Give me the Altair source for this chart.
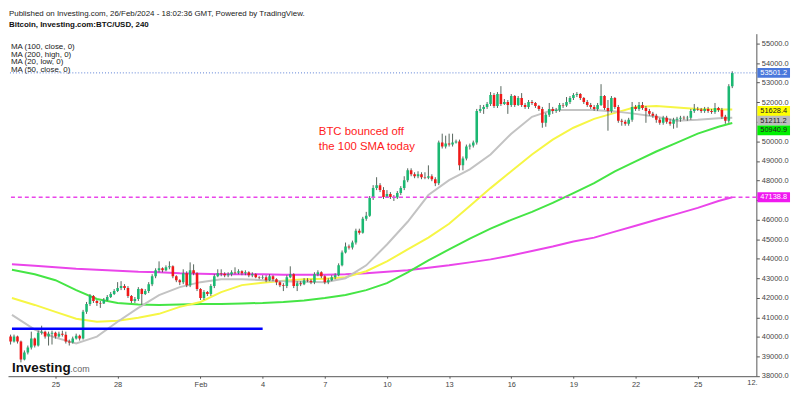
import altair as alt
import pandas as pd

# ---------------- data (BTC/USD 4h candles, Jan 22 20:00 -> Feb 26 16:00) ----------------
first_open = 40013
close = [39760, 40013, 39760, 38848, 39203, 39456, 39911, 39557, 40215, 40266,
         40013, 40165, 40215, 40013, 40165, 40114, 39760, 39709, 39911, 40063,
         39911, 41279, 41684, 42089, 41835, 41734, 41709, 41886, 42038, 42190,
         42342, 42494, 42595, 42494, 42089, 41835, 41937, 42443, 42190, 42342,
         42696, 43101, 43405, 43506, 43405, 43557, 43608, 43101, 42899, 42798,
         43253, 42646, 43405, 43253, 42443, 41987, 42291, 42190, 42595, 43101,
         43253, 43228, 43152, 43203, 43304, 43279, 43354, 43253, 43304, 43152,
         43203, 43051, 43025, 43051, 42899, 43101, 42949, 42798, 42646, 42595,
         43051, 43203, 42595, 42747, 42696, 42899, 42874, 42798, 43203, 43304,
         43101, 42798, 42899, 43051, 43152, 43658, 44317, 44620, 44570, 44823,
         45430, 45329, 46038, 46190, 47101, 47608, 47760, 47506, 47152, 47304,
         47152, 47127, 47354, 47608, 48013, 48519, 48316, 48215, 48316, 48165,
         48139, 48215, 48063, 47861, 49937, 49734, 49886, 49835, 49937, 49987,
         48772, 49127, 49734, 49785, 49937, 51557, 51658, 51760, 51911, 52367,
         51810, 52418, 51911, 52013, 51861, 52317, 51861, 52215, 51861, 51760,
         52013, 51962, 51810, 51658, 50949, 51354, 51658, 51557, 51608, 51861,
         51836, 52013, 52215, 52367, 52418, 52215, 52013, 51861, 51760, 51658,
         51861, 52317, 51709, 51557, 52215, 51760, 51051, 51000, 50899, 51101,
         51760, 51658, 51861, 51709, 51557, 51405, 51304, 51101, 50949, 51203,
         51000, 50899, 51101, 51152, 51203, 51177, 51203, 51557, 51658, 51633,
         51557, 51658, 51557, 51506, 51709, 51608, 51253, 51051, 52823, 53501.2]
high = [40114, 40114, 40063, 39810, 39304, 39557, 40266, 39962, 40316, 40570,
        40316, 40266, 40316, 40266, 40266, 40316, 40266, 39861, 40013, 40165,
        40114, 41380, 41785, 42190, 42139, 41886, 41835, 41987, 42139, 42291,
        42443, 42798, 42848, 42696, 42595, 42139, 42038, 42544, 42494, 42443,
        42798, 43203, 43506, 43861, 43557, 43658, 43861, 43658, 43152, 42949,
        43456, 43354, 43810, 43709, 43304, 42494, 42392, 42342, 42696, 43203,
        43456, 43456, 43304, 43304, 43405, 43557, 43456, 43405, 43405, 43354,
        43304, 43253, 43101, 43152, 43152, 43203, 43152, 43000, 42848, 42747,
        43152, 43608, 43253, 42848, 42848, 43000, 43000, 42949, 43304, 43405,
        43354, 43152, 43000, 43152, 43253, 43760, 44418, 44823, 44722, 44924,
        45532, 45532, 46139, 46392, 47203, 47760, 48165, 47861, 47658, 47506,
        47405, 47253, 47456, 47709, 48215, 48620, 48620, 48418, 48468, 48418,
        48418, 48772, 48316, 48165, 50038, 50392, 50291, 50392, 50392, 50089,
        50089, 49228, 49835, 49886, 50038, 51658, 51861, 51861, 52013, 52519,
        52468, 52519, 52823, 52165, 52114, 52418, 52367, 52317, 52468, 51962,
        52114, 52114, 52013, 51861, 51760, 51456, 51962, 51760, 51709, 51962,
        51962, 52266, 52317, 52468, 52519, 52468, 52266, 52114, 51962, 51861,
        51962, 52924, 52367, 52114, 52317, 52266, 51861, 51152, 51101, 51203,
        52013, 51861, 52013, 52013, 51810, 51658, 51506, 51405, 51203, 51304,
        51304, 51152, 51203, 51253, 51304, 51304, 51304, 51658, 51911, 51760,
        51709, 51760, 51760, 51658, 51962, 51760, 51709, 51354, 52924, 53582]
low = [39608, 39709, 39658, 38696, 38798, 39101, 39354, 39456, 39506, 40114,
       39911, 39557, 39608, 39911, 39962, 40013, 39658, 39557, 39658, 39861,
       39810, 39861, 41177, 41582, 41734, 41582, 41481, 41684, 41835, 41987,
       42139, 42291, 42392, 42392, 41987, 41734, 41734, 41835, 41633, 42139,
       42241, 42595, 43000, 43304, 43304, 43354, 43456, 43000, 42798, 42646,
       42696, 42544, 42544, 43152, 42342, 41886, 41886, 42089, 42089, 42494,
       43051, 43101, 43051, 43051, 43101, 43203, 43203, 43152, 43152, 43051,
       43051, 43000, 42949, 42949, 42798, 42848, 42848, 42646, 42544, 42342,
       42494, 43000, 42494, 42342, 42595, 42646, 42798, 42696, 42696, 43101,
       43000, 42696, 42696, 42848, 42949, 43101, 43608, 44266, 44468, 44468,
       44722, 45228, 45279, 45937, 46139, 47000, 47506, 47405, 47051, 47101,
       47051, 46949, 47051, 47253, 47506, 47911, 48215, 48114, 48114, 48063,
       48063, 48063, 47962, 47709, 47760, 49633, 49633, 49734, 49734, 49886,
       48519, 48519, 49025, 49582, 49684, 49835, 51456, 51405, 51658, 51810,
       51709, 51709, 51810, 51861, 51405, 51760, 51760, 51810, 51760, 51658,
       51658, 51861, 51709, 51557, 50696, 50747, 51253, 51405, 51456, 51506,
       51709, 51760, 51911, 52114, 52266, 52114, 51911, 51760, 51658, 51557,
       51557, 51810, 51608, 50544, 51456, 51658, 50949, 50798, 50798, 50798,
       51000, 51557, 51557, 51608, 50949, 51304, 51203, 50949, 50848, 50848,
       50899, 50798, 50646, 50696, 51000, 51101, 51051, 51101, 51456, 51557,
       51456, 51456, 51456, 51405, 51405, 51506, 51152, 50899, 50949, 52722]

# moving averages (day-of-January scale: Feb 1 = 32)
ma_days = [22.9, 24, 25, 26, 27, 28, 29, 30, 31, 32, 33, 34, 35, 36, 37, 38, 39, 40,
           41, 42, 43, 44, 45, 46, 47, 48, 49, 50, 51, 52, 53, 54, 55, 56, 57, 57.667]
ma100_close = [43430, 43203, 42899, 42392, 41937, 41734, 41658, 41633, 41658, 41684,
               41684, 41709, 41734, 41785, 41861, 41987, 42139, 42392, 42747, 43304,
               43911, 44469, 45025, 45532, 45987, 46392, 46848, 47354, 47861, 48468,
               48975, 49481, 49937, 50392, 50747, 50940.9]
ma200_high = [43709, 43633, 43557, 43481, 43430, 43380, 43329, 43304, 43253, 43228,
              43203, 43203, 43203, 43177, 43177, 43177, 43203, 43253, 43329, 43405,
              43532, 43658, 43810, 43962, 44165, 44392, 44620, 44873, 45076, 45380,
              45684, 45987, 46291, 46595, 46949, 47138.8]
ma20_low = [41127, 40367, 39962, 39658, 40013, 40772, 41481, 42139, 42544, 42798,
            42950, 42950, 42899, 42848, 42823, 42798, 43000, 43658, 44722, 45886,
            47253, 48013, 48570, 49329, 50392, 51253, 51608, 51608, 51608, 51532,
            51405, 51253, 51051, 51101, 51177, 51211.2]
ma50_close = [41987, 41633, 41279, 40924, 40772, 40823, 40975, 41177, 41532, 41785,
              42291, 42646, 42772, 42873, 42950, 42975, 43051, 43355, 43861, 44469,
              45076, 45785, 46696, 47608, 48468, 49329, 50089, 50696, 51152, 51456,
              51760, 51810, 51734, 51658, 51633, 51628.4]

support_level = 40420           # blue horizontal line
support_from, support_to = 22.9, 35.0
last_price = 53501.2
ma200_last = 47138.8

x_ticks = [25, 28, 32, 35, 38, 41, 44, 47, 50, 53, 56]
y_ticks = list(range(38000, 55001, 1000))
hidden_y_labels = [47000, 51000]   # covered by the price tags in the original

# ---------------- build ----------------
FONT = "Liberation Sans"
start_day = 22 + 20 / 24
step = 4 / 24
n = len(close)
opens = [first_open] + close[:-1]
candles = pd.DataFrame({
    "d": [start_day + i * step for i in range(n)],
    "open": opens, "close": close, "high": high, "low": low,
})

hide_expr = " || ".join(f"datum.value == {v}" for v in hidden_y_labels)
xs = alt.Scale(domain=[22.948, 58.591], nice=False, zero=False)
ys = alt.Scale(domain=[37988, 55506], nice=False, zero=False)
xaxis = alt.Axis(values=x_ticks,
                 labelExpr="datum.value == 32 ? 'Feb' : (datum.value > 31 ? toString(datum.value - 31) : toString(datum.value))",
                 title=None, grid=False, domainColor="#555", tickColor="#555", tickSize=2,
                 labelFontSize=7.5, labelColor="#444", labelPadding=2, labelOverlap=False)
yaxis = alt.Axis(orient="right", values=y_ticks, format=".1f", title=None, grid=False,
                 labelExpr=f"({hide_expr}) ? '' : datum.label",
                 domainColor="#555", tickColor="#555", tickSize=3, labelFontSize=7.5,
                 labelColor="#444", labelPadding=2, labelOverlap=False)


def X(f):
    return alt.X(f, type="quantitative", scale=xs, axis=xaxis)


def Y(f):
    return alt.Y(f, type="quantitative", scale=ys, axis=yaxis)


layers = []
for vals, col in [(ma200_high, "#ea45ea"), (ma100_close, "#45e545"),
                  (ma50_close, "#f6f645"), (ma20_low, "#c3c3c3")]:
    df = pd.DataFrame({"d": ma_days, "price": vals})
    layers.append(alt.Chart(df).mark_line(strokeWidth=2, clip=True, color=col)
                  .encode(x=X("d"), y=Y("price")))

layers.append(alt.Chart(candles).mark_rule(strokeWidth=1, clip=True, color="#56655c")
              .encode(x=X("d"), y=Y("low"), y2="high"))
layers.append(alt.Chart(candles).mark_bar(size=2.6, clip=True)
              .encode(x=X("d"), y=Y("open"), y2="close",
                      color=alt.condition(alt.datum.close >= alt.datum.open,
                                          alt.value("#1bb872"), alt.value("#f01818"))))

layers.append(alt.Chart(pd.DataFrame({"price": [ma200_last]}))
              .mark_rule(color="#ea45ea", strokeWidth=1.5, strokeDash=[4, 3])
              .encode(y=Y("price")))
layers.append(alt.Chart(pd.DataFrame({"price": [last_price]}))
              .mark_rule(color="#5b7fd6", strokeWidth=1, strokeDash=[1, 2])
              .encode(y=Y("price")))
layers.append(alt.Chart(pd.DataFrame({"d0": [support_from], "d1": [support_to], "price": [support_level]}))
              .mark_rule(color="#0000ff", strokeWidth=2.5, clip=True)
              .encode(x=X("d0"), x2="d1", y=Y("price")))

# price tags on the right axis
tags = [(last_price, 0, "#4a78dc", "white"),
        (ma50_close[-1], 1.5, "#ffff00", "#222"),
        (ma20_low[-1], 3, "#bdbdbd", "#222"),
        (ma100_close[-1], 7.5, "#00f000", "#222"),
        (ma200_last, 0, "#f018f0", "white")]
for price, shift, bg, fg in tags:
    df = pd.DataFrame({"price": [price], "label": [f"{price:.1f}"]})
    layers.append(alt.Chart(df).mark_rect(color=bg, yOffset=-5 + shift, y2Offset=5 + shift)
                  .encode(y=Y("price"), y2="price", x=alt.value(757), x2=alt.value(790)))
    layers.append(alt.Chart(df).mark_text(align="left", baseline="middle", dy=shift, fontSize=7.5,
                                          color=fg, font=FONT)
                  .encode(y=Y("price"), x=alt.value(760), text="label:N"))


def label(text, x, y, **kw):
    props = dict(align="left", baseline="middle", font=FONT)
    props.update(kw)
    return (alt.Chart(pd.DataFrame({"t": [text]})).mark_text(**props)
            .encode(text="t:N", x=alt.value(x), y=alt.value(y)))


layers.append(label("Published on Investing.com, 26/Feb/2024 - 18:02:36 GMT, Powered by TradingView.",
                    1, -20, fontSize=8, color="#222"))
layers.append(label("Bitcoin, Investing.com:BTC/USD, 240", 1, -8.5, fontSize=8,
                    fontWeight="bold", color="#111"))
for k, t in enumerate(["MA (100, close, 0)", "MA (200, high, 0)", "MA (20, low, 0)", "MA (50, close, 0)"]):
    layers.append(label(t, 3, 13.5 + 7.8 * k, fontSize=8, color="#222"))
layers.append(label("BTC bounced off", 314, 99, fontSize=11.5, color="#ff1a1a"))
layers.append(label("the 100 SMA today", 314, 114, fontSize=11.5, color="#ff1a1a"))
layers.append(label("Investing", 4, 342, baseline="alphabetic", fontSize=13.5,
                    fontWeight="bold", color="#111"))
layers.append(label(".com", 63, 342, baseline="alphabetic", fontSize=9, color="#666"))
layers.append(label("12.", 752, 349, align="center", baseline="top", fontSize=7.5, color="#444"))

chart = alt.layer(*layers).properties(
    width=756, height=346,
    padding={"left": 0, "top": 24, "right": 36, "bottom": 13},
    autosize=alt.AutoSizeParams(type="none"),
    background="white",
).configure(font=FONT, view=alt.ViewConfig(strokeWidth=0))

chart.save("out.html", embed_options={"renderer": "svg", "actions": False})
